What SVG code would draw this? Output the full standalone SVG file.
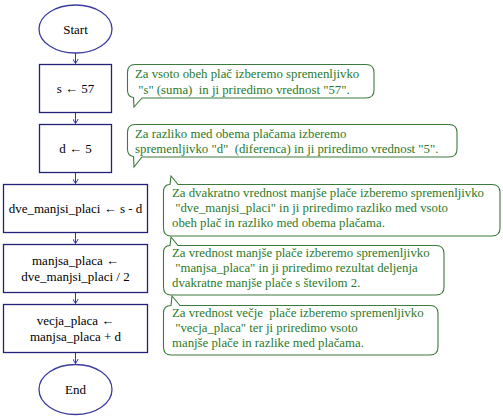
<svg xmlns="http://www.w3.org/2000/svg" width="503" height="417" viewBox="0 0 503 417">
<style>
.node{fill:#fff;stroke:#22227a;stroke-width:1.3}
.ell{fill:#fff;stroke:#3c3ca0;stroke-width:1.3}
.nt{font-family:'Liberation Serif','DejaVu Serif',serif;font-size:13px;fill:#000;text-anchor:middle}
.co{fill:#fff;stroke:#3d7a3d;stroke-width:1.1}
.ct{font-family:'Liberation Serif','DejaVu Serif',serif;font-size:12.8px;fill:#2a7a2a}
.conn{stroke:#3535a5;stroke-width:1;fill:none}
</style>
<defs>
<marker id="arr" markerWidth="6" markerHeight="6" refX="5" refY="3" orient="auto" markerUnits="userSpaceOnUse">
<path d="M0,0 L5,3 L0,6" fill="none" stroke="#3535a5" stroke-width="1"/>
</marker>
</defs>
<rect width="503" height="417" fill="#fff"/>
<g id="connectors">
<line class="conn" x1="75.5" y1="53" x2="75.5" y2="63.5" marker-end="url(#arr)"/>
<line class="conn" x1="75.5" y1="112" x2="75.5" y2="123.5" marker-end="url(#arr)"/>
<line class="conn" x1="75.5" y1="173" x2="75.5" y2="183.5" marker-end="url(#arr)"/>
<line class="conn" x1="75.5" y1="232" x2="75.5" y2="243.5" marker-end="url(#arr)"/>
<line class="conn" x1="75.5" y1="292" x2="75.5" y2="303.5" marker-end="url(#arr)"/>
<line class="conn" x1="75.5" y1="352" x2="75.5" y2="363.5" marker-end="url(#arr)"/>
</g>
<g id="start">
<ellipse class="ell" cx="75.5" cy="29" rx="36.5" ry="24"/>
<text class="nt" x="75.5" y="33.5">Start</text>
</g>
<g id="s57">
<rect class="node" x="39.5" y="64.5" width="72" height="48"/>
<text class="nt" x="75.5" y="93">s ← 57</text>
</g>
<g id="d5">
<rect class="node" x="39.5" y="124.5" width="72" height="48"/>
<text class="nt" x="75.5" y="153">d ← 5</text>
</g>
<g id="dve">
<rect class="node" x="3.5" y="184.5" width="144" height="48"/>
<text class="nt" x="75.5" y="213">dve_manjsi_placi ← s - d</text>
</g>
<g id="manjsa">
<rect class="node" x="3.5" y="244.5" width="144" height="48"/>
<text class="nt" x="75.5" y="265">manjsa_placa ←</text>
<text class="nt" x="75.5" y="281">dve_manjsi_placi / 2</text>
</g>
<g id="vecja">
<rect class="node" x="3.5" y="304.5" width="144" height="48"/>
<text class="nt" x="75.5" y="325">vecja_placa ←</text>
<text class="nt" x="75.5" y="341">manjsa_placa + d</text>
</g>
<g id="end">
<ellipse class="ell" cx="75.5" cy="389.5" rx="36.5" ry="25"/>
<text class="nt" x="75.5" y="394">End</text>
</g>
<g id="note1">
<path class="co" d="M135,64.5 H366 Q374,64.5 374,72.5 V90 Q374,98 366,98 H142 L134,107 L133.5,97.5 Q127.5,97 127.5,90 V72.5 Q127.5,64.5 135,64.5 Z"/>
<text class="ct" x="135" y="78">Za vsoto obeh plač izberemo spremenljivko</text>
<text class="ct" x="135" y="94" xml:space="preserve"> "s" (suma)  in ji priredimo vrednost "57".</text>
</g>
<g id="note2">
<path class="co" d="M135,124.5 H449 Q457,124.5 457,132.5 V149 Q457,157 449,157 H142 L134,167 L133.5,156.5 Q127.5,156 127.5,149 V132.5 Q127.5,124.5 135,124.5 Z"/>
<text class="ct" x="135" y="138">Za razliko med obema plačama izberemo</text>
<text class="ct" x="135" y="153" xml:space="preserve">spremenljivko "d"  (diferenca) in ji priredimo vrednost "5".</text>
</g>
<g id="note3">
<path class="co" d="M163.5,192 Q163.5,184.5 170,184.5 L171,176 L178,184.5 H492 Q500,184.5 500,192.5 V228 Q500,236 492,236 H171 Q163.5,236 163.5,228 Z"/>
<text class="ct" x="172" y="197">Za dvakratno vrednost manjše plače izberemo spremenljivko</text>
<text class="ct" x="172" y="212" xml:space="preserve"> "dve_manjsi_placi" in ji priredimo razliko med vsoto</text>
<text class="ct" x="172" y="227">obeh plač in razliko med obema plačama.</text>
</g>
<g id="note4">
<path class="co" d="M163.5,253 Q163.5,245.5 170,245.5 L171,237 L178,245.5 H436 Q444,245.5 444,253.5 V287 Q444,295 436,295 H171 Q163.5,295 163.5,287 Z"/>
<text class="ct" x="172" y="257">Za vrednost manjše plače izberemo spremenljivko</text>
<text class="ct" x="172" y="272" xml:space="preserve"> "manjsa_placa" in ji priredimo rezultat deljenja</text>
<text class="ct" x="172" y="287">dvakratne manjše plače s številom 2.</text>
</g>
<g id="note5">
<path class="co" d="M163.5,313 Q163.5,305.5 171,305.5 L172,296 L180,305.5 H430 Q438,305.5 438,313.5 V347 Q438,355 430,355 H171 Q163.5,355 163.5,347 Z"/>
<text class="ct" x="172" y="317" xml:space="preserve">Za vrednost večje  plače izberemo spremenljivko</text>
<text class="ct" x="172" y="332" xml:space="preserve"> "vecja_placa" ter ji priredimo vsoto</text>
<text class="ct" x="172" y="347">manjše plače in razlike med plačama.</text>
</g>
</svg>
